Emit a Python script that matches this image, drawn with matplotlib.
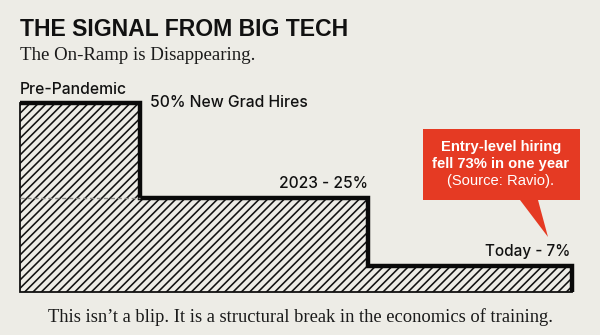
import matplotlib
matplotlib.use("Agg")
import matplotlib.pyplot as plt
from matplotlib.patches import Polygon

# ---- data ----
periods = ["Pre-Pandemic", "2023", "Today"]
share = [50, 25, 7]
bar_labels = ["50% New Grad Hires", "2023 - 25%", "Today - 7%"]
title = "THE SIGNAL FROM BIG TECH"
subtitle = "The On-Ramp is Disappearing."
footer = "This isn\u2019t a blip. It is a structural break in the economics of training."
callout = ["Entry-level hiring", "fell 73% in one year", "(Source: Ravio)."]

# ---- layout (pixels) ----
W, H = 600, 335
BG = "#EDECE6"
RED = "#E53A23"
edges = [0, 120, 348, 552]  # segment edges within axes (px)

plt.rcParams["hatch.linewidth"] = 1.15
fig = plt.figure(figsize=(W / 100, H / 100), dpi=100, facecolor=BG)

ax_left, ax_bottom_px, ax_w, ax_h = 20, 292, 552, 189
ax = fig.add_axes([ax_left / W, (H - ax_bottom_px) / H, ax_w / W, ax_h / H])
ax.set_xlim(0, 552)
ax.set_ylim(0, 50)
ax.axis("off")
ax.patch.set_alpha(0)

lefts = edges[:-1]
widths = [edges[i + 1] - edges[i] for i in range(len(share))]
ax.bar(lefts, share, width=widths, align="edge", color="none",
       edgecolor="#111111", hatch="////", linewidth=0)

# thin outline (left & bottom)
ax.plot([0, 0, edges[-1]], [share[0], 0, 0], color="#111111", lw=1.3,
        clip_on=False, solid_joinstyle="miter")
# thick step outline
xs, ys = [0], [share[0]]
for i, v in enumerate(share):
    xs += [edges[i], edges[i + 1]]
    ys += [v, v]
xs += [edges[-1]]
ys += [0]
ax.plot(xs, ys, color="#0a0a0a", lw=3.2, clip_on=False,
        solid_joinstyle="miter", solid_capstyle="butt")
# faint dashed reference at 2023 level inside first block
ax.plot([0, edges[1]], [share[1], share[1]], color="#8a8a86", lw=1.0,
        ls=(0, (3, 2)), clip_on=False)

lbl_font = dict(family=["Inter", "Liberation Sans"], fontweight=500, color="#111111")
ax.text(0, share[0] + 1.5, periods[0], fontsize=11.3, ha="left", va="bottom", **lbl_font)
ax.text(edges[1] + 10, share[0], bar_labels[0], fontsize=11.3, ha="left", va="center", **lbl_font)
ax.text(edges[2], share[1] + 1.6, bar_labels[1], fontsize=11.2, ha="right", va="bottom", **lbl_font)
ax.text(edges[3] - 2, share[2] + 1.8, bar_labels[2], fontsize=11.0, ha="right", va="bottom", **lbl_font)

def fy(y):
    return 1 - y / H

fig.text(20 / W, fy(29), title, fontsize=16.6, fontweight="bold",
         family="Liberation Sans", ha="left", va="center", color="#111111")
fig.text(20 / W, fy(56), subtitle, fontsize=13.6, family="Liberation Serif",
         ha="left", va="center", color="#1a1a1a")
fig.text(300 / W, fy(317), footer, fontsize=13.3, family="Liberation Serif",
         ha="center", va="center", color="#1a1a1a")

# callout box with pointer (figure pixels)
box = [(423, 129), (580, 129), (580, 200), (538, 200), (548, 237), (520, 200), (423, 200)]
poly = Polygon([(x / W, fy(y)) for x, y in box], closed=True, transform=fig.transFigure,
               facecolor=RED, edgecolor="none")
fig.add_artist(poly)
fig.text(501 / W, fy(147), callout[0], fontsize=10.6, fontweight="bold",
         family="Liberation Sans", ha="center", va="center", color="white")
fig.text(501 / W, fy(164), callout[1], fontsize=10.6, fontweight="bold",
         family="Liberation Sans", ha="center", va="center", color="white")
fig.text(501 / W, fy(181), callout[2], fontsize=10.6,
         family="Liberation Sans", ha="center", va="center", color="white")

fig.savefig("out.png", dpi=100, facecolor=BG)
